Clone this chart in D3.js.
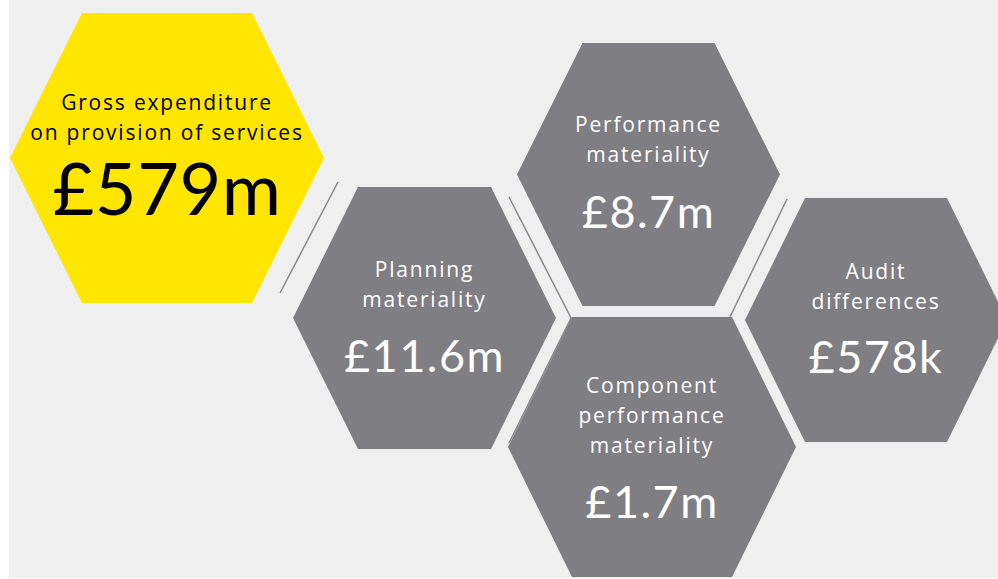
<!DOCTYPE html>
<html><head><meta charset="utf-8">
<script src="https://cdn.jsdelivr.net/npm/d3@7/dist/d3.min.js"></script>
<style>
html,body{margin:0;padding:0;background:#fff;}
svg{display:block;}
text.lab{font-family:"Open Sans","Lato",sans-serif;}
text.val{font-family:"Lato","Open Sans",sans-serif;}
</style></head>
<body>
<svg id="chart" width="998" height="579"></svg>
<script>
// ---- data ----
const categories = [
  ["Gross expenditure", "on provision of services"],
  ["Planning", "materiality"],
  ["Performance", "materiality"],
  ["Component", "performance", "materiality"],
  ["Audit", "differences"]
];
const values = ["£579m", "£11.6m", "£8.7m", "£1.7m", "£578k"];
const highlight = [true, false, false, false, false];

// ---- layout (hexagon geometry: centre, half-width, half top edge, half-height) ----
const hexLayout = [
  {cx:167, cy:158, rx:157, a:85, ry:145, labelY:110, valueY:215, labelSize:21, valueSize:72, vls:0.5},
  {cx:424.5, cy:318, rx:131.5, a:66.5, ry:131, labelY:277, valueY:372, labelSize:21, valueSize:45, vls:1.5},
  {cx:648.5, cy:174.5, rx:131.5, a:66, ry:131.5, labelY:132, valueY:228, labelSize:21, valueSize:45, vls:1.5},
  {cx:652, cy:447, rx:144, a:80, ry:130, labelY:393, valueY:518, labelSize:21, valueSize:45, vls:1.5},
  {cx:876, cy:320, rx:131, a:71, ry:122, labelY:279, valueY:373, labelSize:21, valueSize:45, vls:1.5}
];
const connectors = [
  [[338,182],[280,293]],
  [[509,197],[571,318],[509,443]],
  [[787,199],[730,317]]
];

const W = 998, H = 578;
const svg = d3.select("#chart");
svg.append("rect").attr("x",9).attr("y",0).attr("width",W-9).attr("height",H).attr("fill","#efefef");

const hexPts = d => [
  [d.cx-d.rx, d.cy],[d.cx-d.a, d.cy-d.ry],[d.cx+d.a, d.cy-d.ry],
  [d.cx+d.rx, d.cy],[d.cx+d.a, d.cy+d.ry],[d.cx-d.a, d.cy+d.ry]
];
const line = d3.line();

const g = svg.selectAll("g.hex").data(categories.map((c,i)=>({label:c, value:values[i], hl:highlight[i], L:hexLayout[i]})))
  .join("g").attr("class","hex");

g.append("path")
  .attr("d", d => line(hexPts(d.L)) + "Z")
  .attr("fill", d => d.hl ? "#ffe600" : "#7f7e83");

g.each(function(d){
  const sel = d3.select(this);
  const col = d.hl ? "#000" : "#fff";
  d.label.forEach((t,j)=>{
    sel.append("text").attr("class","lab")
      .attr("x", d.L.cx).attr("y", d.L.labelY + j*30)
      .attr("text-anchor","middle")
      .attr("font-size", d.L.labelSize)
      .attr("letter-spacing", "1.8px")
      .attr("fill", col).text(t);
  });
  sel.append("text").attr("class","val")
    .attr("x", d.L.cx).attr("y", d.L.valueY)
    .attr("text-anchor","middle")
    .attr("font-size", d.L.valueSize)
    .attr("letter-spacing", d.L.vls + "px")
    .attr("fill", col).text(d.value);
});

svg.selectAll("path.conn").data(connectors).join("path")
  .attr("class","conn")
  .attr("d", d => line(d))
  .attr("fill","none").attr("stroke","#8a898d").attr("stroke-width",1.5);
</script>
</body></html>
